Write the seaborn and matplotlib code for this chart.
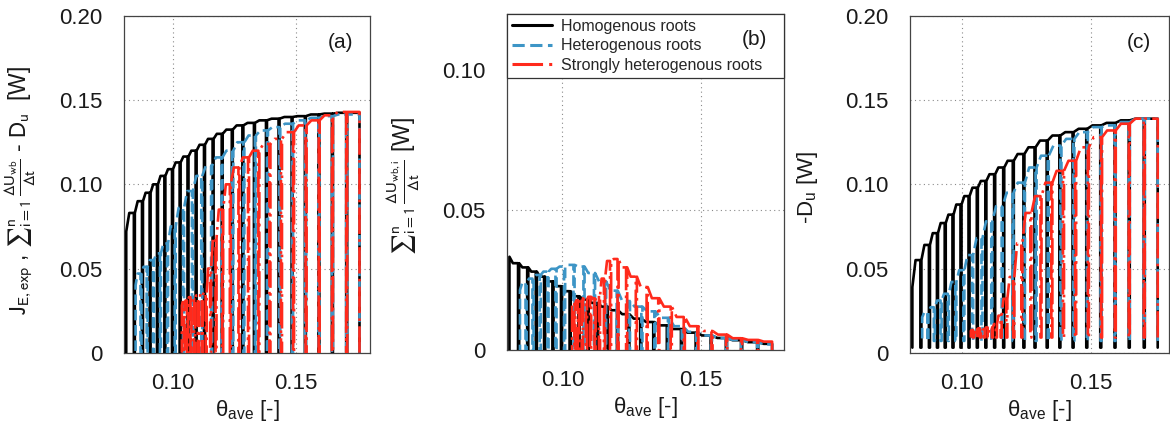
import matplotlib
matplotlib.use("Agg")
import matplotlib.pyplot as plt
from matplotlib.lines import Line2D
from matplotlib.ticker import MultipleLocator, FuncFormatter
import pandas as pd
import seaborn as sns

sns.set_style("white")
plt.rcParams["font.family"] = ["Liberation Sans", "DejaVu Sans"]
plt.rcParams["mathtext.fontset"] = "custom"
plt.rcParams["mathtext.rm"] = "Liberation Sans"
plt.rcParams["mathtext.it"] = "Liberation Sans:italic"
plt.rcParams["mathtext.bf"] = "Liberation Sans:bold"
plt.rcParams["mathtext.sf"] = "Liberation Sans"

SERIES = ["Homogenous roots", "Heterogenous roots", "Strongly heterogenous roots"]

# Average water content at the start of each daily cycle (drying runs right to left)
THETA_HOMO = [0.1757, 0.1703, 0.1645, 0.1590, 0.1535, 0.1481, 0.1428, 0.1377,
              0.1328, 0.1281, 0.1238, 0.1197, 0.1160, 0.1125, 0.1091, 0.1058,
              0.1026, 0.0995, 0.0964, 0.0934, 0.0904, 0.0873, 0.0840, 0.0805]
THETA_HETERO = [0.1757, 0.1703, 0.1645, 0.1590, 0.1536, 0.1483, 0.1431, 0.1381,
                0.1332, 0.1285, 0.1240, 0.1196, 0.1154, 0.1114, 0.1076, 0.1040,
                0.1006, 0.0975, 0.0946, 0.0918, 0.0892, 0.0867, 0.0843]
THETA_STRONG = [0.1757, 0.1703, 0.1645, 0.1591, 0.1538, 0.1487, 0.1438, 0.1391,
                0.1346, 0.1304, 0.1265, 0.1230, 0.1199, 0.1172, 0.1150, 0.1132,
                0.1116, 0.1100, 0.1085, 0.1070, 0.1056, 0.1043, 0.1031]

# (a) daytime J_E,exp [W]
JE_HOMO = [0.1425, 0.1425, 0.1420, 0.1415, 0.1405, 0.1400, 0.1390, 0.1380,
           0.1365, 0.1350, 0.1325, 0.1300, 0.1270, 0.1235, 0.1200, 0.1165,
           0.1130, 0.1090, 0.1050, 0.1000, 0.0950, 0.0900, 0.0830, 0.0720]
JE_HETERO = [0.1415, 0.1415, 0.1405, 0.1395, 0.1380, 0.1360, 0.1340, 0.1320,
             0.1290, 0.1250, 0.1200, 0.1160, 0.1110, 0.1050, 0.0960, 0.0860,
             0.0750, 0.0650, 0.0590, 0.0550, 0.0510, 0.0470, 0.0400]
JE_STRONG = [0.1430, 0.1430, 0.1410, 0.1380, 0.1350, 0.1310, 0.1270, 0.1240,
             0.1200, 0.1160, 0.1100, 0.1000, 0.0850, 0.0680, 0.0500, 0.0360,
             0.0340, 0.0340, 0.0320, 0.0330, 0.0310, 0.0300, 0.0280]

# (b) storage change of the water bodies [W]
DUWB_HOMO = [0.0022, 0.0028, 0.0035, 0.0043, 0.0052, 0.0062, 0.0075, 0.0088,
             0.0100, 0.0112, 0.0128, 0.0142, 0.0155, 0.0168, 0.0180, 0.0192,
             0.0210, 0.0228, 0.0245, 0.0262, 0.0280, 0.0295, 0.0310, 0.0333]
DUWB_HETERO = [0.0020, 0.0028, 0.0036, 0.0042, 0.0052, 0.0065, 0.0085, 0.0115,
               0.0138, 0.0155, 0.0175, 0.0212, 0.0245, 0.0275, 0.0298, 0.0304,
               0.0298, 0.0290, 0.0280, 0.0268, 0.0255, 0.0240, 0.0214]
DUWB_STRONG = [0.0030, 0.0036, 0.0042, 0.0055, 0.0068, 0.0085, 0.0118, 0.0155,
               0.0185, 0.0225, 0.0262, 0.0295, 0.0325, 0.0318, 0.0255, 0.0195,
               0.0185, 0.0190, 0.0180, 0.0185, 0.0178, 0.0170, 0.0160]

# (c) -D_u [W]
DU_HOMO = [0.139, 0.139, 0.138, 0.1365, 0.135, 0.133, 0.131, 0.129,
           0.126, 0.122, 0.118, 0.114, 0.110, 0.106, 0.102, 0.098,
           0.093, 0.088, 0.082, 0.077, 0.071, 0.064, 0.055, 0.039]
DU_HETERO = [0.139, 0.139, 0.137, 0.135, 0.134, 0.131, 0.127, 0.123,
             0.117, 0.110, 0.101, 0.095, 0.087, 0.078, 0.068, 0.058,
             0.049, 0.042, 0.035, 0.031, 0.027, 0.024, 0.021]
DU_STRONG = [0.139, 0.139, 0.136, 0.132, 0.128, 0.122, 0.114, 0.108,
             0.101, 0.093, 0.083, 0.065, 0.045, 0.032, 0.022, 0.017,
             0.015, 0.015, 0.014, 0.0145, 0.014, 0.0135, 0.013]
# night-time level of -D_u
DU_NIGHT = [0.003, 0.007, 0.009]

THETAS = [THETA_HOMO, THETA_HETERO, THETA_STRONG]
PANELS = [
    ([JE_HOMO, JE_HETERO, JE_STRONG], [0.0, 0.0, 0.0]),
    ([DUWB_HOMO, DUWB_HETERO, DUWB_STRONG], [0.0, 0.0, 0.0]),
    ([DU_HOMO, DU_HETERO, DU_STRONG], DU_NIGHT),
]

NIGHT_STEP = 0.0004
COLORS = ["#000000", "#3d95c6", "#ff2a1c"]
STYLES = ["-", (0, (4.0, 1.8)), (0, (10.0, 2.0, 1.0, 2.0))]
LW = 1.9


def daily_cycles(theta, level, floor):
    """Day: rise at dawn, plateau while theta falls, drop at dusk."""
    xs, ys = [], []
    for k in range(len(theta) - 1):
        dawn = theta[k]
        dusk = theta[k + 1] + NIGHT_STEP
        knee = dawn - 0.6 * (dawn - dusk)
        xs += [dawn, dawn, knee, dusk, dusk]
        ys += [floor, level[k], level[k], level[k + 1], floor]
    return pd.DataFrame({"theta": xs, "flux": ys})


fig = plt.figure(figsize=(11.7, 4.32), dpi=100)
ax_a = fig.add_axes([0.1060, 0.1836, 0.2103, 0.7794])
ax_b = fig.add_axes([0.4333, 0.1898, 0.2368, 0.7778])
ax_c = fig.add_axes([0.7778, 0.1836, 0.2212, 0.7794])
axes = [ax_a, ax_b, ax_c]

for ax, (levels, floors) in zip(axes, PANELS):
    for i in range(3):
        df = daily_cycles(THETAS[i], levels[i], floors[i])
        sns.lineplot(data=df, x="theta", y="flux", sort=False, estimator=None,
                     ax=ax, color=COLORS[i], linewidth=LW, linestyle=STYLES[i],
                     legend=False, zorder=3 + i)

zero_fmt = FuncFormatter(lambda v, _: "0" if abs(v) < 1e-9 else f"{v:.2f}")
grey = "#444444"
for ax, top in zip(axes, [0.20, 0.12, 0.20]):
    ax.set_xlim(0.08, 0.18)
    ax.set_ylim(0, top)
    ax.xaxis.set_major_locator(MultipleLocator(0.05))
    ax.xaxis.set_minor_locator(MultipleLocator(0.01))
    ax.yaxis.set_major_locator(MultipleLocator(0.05))
    ax.yaxis.set_minor_locator(MultipleLocator(0.01))
    ax.yaxis.set_major_formatter(zero_fmt)
    ax.xaxis.set_major_formatter(FuncFormatter(lambda v, _: f"{v:.2f}"))
    ax.set_axisbelow(True)
    ax.grid(True, which="major", color="#8a8a8a", linewidth=0.8,
            linestyle=(0, (1, 3)))
    ax.grid(False, which="minor")
    for s in ax.spines.values():
        s.set_visible(True)
        s.set_color(grey)
        s.set_linewidth(0.9)
    ax.tick_params(which="both", direction="out", length=5.5, width=0.9,
                   color=grey, labelsize=16, labelcolor="#1a1a1a")
    ax.tick_params(axis="x", which="both", pad=9)
    ax.tick_params(axis="y", which="both", pad=10)
    ax.set_xlabel(r"$\mathrm{\theta_{ave}}$ [-]", fontsize=16, labelpad=3,
                  color="#1a1a1a")

SUM = r"{\sum}_{\mathrm{i=1}}^{\mathrm{n}}\,"
ax_a.set_ylabel(r"$\mathrm{J_{E,exp}}$ , $" + SUM +
                r"\frac{\Delta \mathrm{U_{wb}}}{\Delta \mathrm{t}}$ - "
                r"$\mathrm{D_u}$  [W]", fontsize=16.5, color="#1a1a1a")
ax_a.yaxis.set_label_coords(-0.348, 0.483)
ax_b.set_ylabel(r"$" + SUM +
                r"\frac{\Delta \mathrm{U_{wb,i}}}{\Delta \mathrm{t}}$ [W]",
                fontsize=16.5, color="#1a1a1a")
ax_b.yaxis.set_label_coords(-0.307, 0.488)
for ax in (ax_a, ax_b):
    ax.yaxis.label.set_math_fontfamily("stixsans")
ax_c.set_ylabel(r"-$\mathrm{D_u}$ [W]", fontsize=16, color="#1a1a1a")
ax_c.yaxis.set_label_coords(-0.347, 0.49)

for ax, tag, pos in zip(axes, ["(a)", "(b)", "(c)"],
                        [(0.881, 0.92), (0.895, 0.923), (0.885, 0.92)]):
    ax.text(pos[0], pos[1], tag, transform=ax.transAxes, ha="center",
            va="center", fontsize=15, color="#1a1a1a", zorder=10)

handles = [Line2D([], [], color=COLORS[i], linewidth=2.2, linestyle=STYLES[i])
           for i in range(3)]
leg = ax_b.legend(handles, SERIES, loc="upper left", bbox_to_anchor=(0, 1, 1, 0),
                  mode="expand", borderaxespad=0, frameon=True, fancybox=False,
                  edgecolor="#333333", framealpha=1, fontsize=11.5,
                  handlelength=2.5, handletextpad=0.6, borderpad=0.3,
                  labelspacing=0.28)
leg.get_frame().set_linewidth(0.9)

fig.savefig("out.png", dpi=100)
